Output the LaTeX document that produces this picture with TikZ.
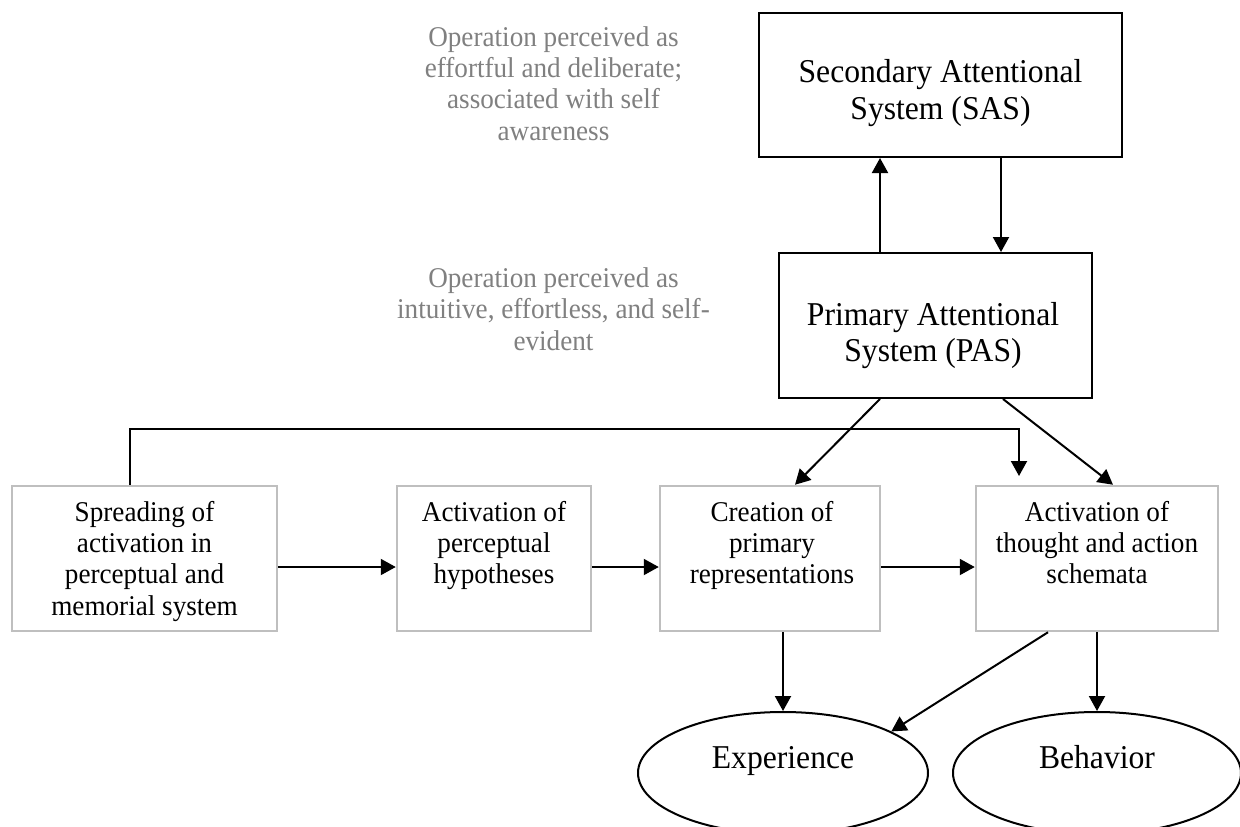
\documentclass[tikz,border=0pt]{standalone}
\usepackage{fontspec}
\setmainfont[FakeStretch=0.95]{Liberation Serif}
\usetikzlibrary{arrows.meta,shapes.geometric}
\definecolor{txtgray}{RGB}{128,128,128}
\definecolor{boxgray}{RGB}{191,191,191}
\newcommand{\smallfnt}{\fontsize{28.6}{31.3}\selectfont}
\newcommand{\bigfnt}{\fontsize{33.3}{36.5}\selectfont}
\begin{document}
\begin{tikzpicture}[x=1pt,y=-1pt,
  blackbox/.style={draw=black,line width=2pt,inner sep=0pt},
  graybox/.style={draw=boxgray,line width=2.5pt,minimum height=145pt,inner sep=0pt},
  oval/.style={ellipse,draw=black,line width=2pt,minimum height=122pt,inner sep=0pt},
  smalltext/.style={anchor=north,inner sep=0pt,align=center,font=\smallfnt},
  bigtext/.style={anchor=north,inner sep=0pt,align=center,font=\bigfnt},
  note/.style={smalltext,text=txtgray},
  arr/.style={line width=2pt,-{Triangle[length=15pt,width=16pt]}},
  ln/.style={line width=2pt}]
\useasboundingbox (0,0) rectangle (1240,827);
\clip (0,0) rectangle (1240,827);

% gray notes
\node[note] (n1) at (553.5,24) {\strut Operation perceived as\\effortful and deliberate;\\associated with self\\awareness};
\node[note] (n2) at (553.5,265.5) {\strut Operation perceived as\\intuitive, effortless, and self-\\evident};

% attentional systems
\node[blackbox,minimum width=363pt,minimum height=144pt] (sas) at (940.5,85) {};
\node[bigtext] (sast) at (940.5,57) {\strut Secondary Attentional\\System (SAS)};
\node[blackbox,minimum width=313pt,minimum height=145pt] (pas) at (935.5,325.5) {};
\node[bigtext] (past) at (933,299.5) {\strut Primary Attentional\\System (PAS)};

% process boxes
\node[graybox,minimum width=265pt] (b1) at (144.5,558.5) {};
\node[graybox,minimum width=194pt] (b2) at (494,558.5) {};
\node[graybox,minimum width=220pt] (b3) at (770,558.5) {};
\node[graybox,minimum width=242pt] (b4) at (1097,558.5) {};
\node[smalltext] (b1t) at (144.5,499.1) {\strut Spreading of\\activation in\\perceptual and\\memorial system};
\node[smalltext] (b2t) at (494,499.1) {\strut Activation of\\perceptual\\hypotheses};
\node[smalltext] (b3t) at (772,499.1) {\strut Creation of\\primary\\representations};
\node[smalltext] (b4t) at (1097,499.1) {\strut Activation of\\thought and action\\schemata};

% outcomes
\node[oval,minimum width=290pt] (exp) at (783,773) {};
\node[oval,minimum width=288pt] (beh) at (1097,773) {};
\node[bigtext] (expt) at (783,742.5) {\strut Experience};
\node[bigtext] (beht) at (1097,742.5) {\strut Behavior};

% connectors
\draw[arr] (pas.north -| 880,0) -- (sas.south -| 880,0);
\draw[arr] (sas.south -| 1001,0) -- (pas.north -| 1001,0);
\draw[arr] (pas.south -| 880,0) -- (b3.north -| 795,0);
\draw[arr] (pas.south -| 1003,0) -- (b4.north -| 1113,0);

\coordinate (turn) at (1019,429);
\coordinate (loopend) at (1019,476);
\draw[arr] (b1.north -| 130,0) |- (turn) -- (loopend);

\draw[arr] (b1.east |- 0,567) -- (b2.west |- 0,567);
\draw[arr] (b2.east |- 0,567) -- (b3.west |- 0,567);
\draw[arr] (b3.east |- 0,567) -- (b4.west |- 0,567);

\draw[arr] (b3.south -| 783,0) -- (exp.north);
\draw[arr] (b4.south -| 1048,0) -- (exp.21);
\draw[arr] (b4.south -| 1097,0) -- (beh.north);
\end{tikzpicture}
\end{document}
